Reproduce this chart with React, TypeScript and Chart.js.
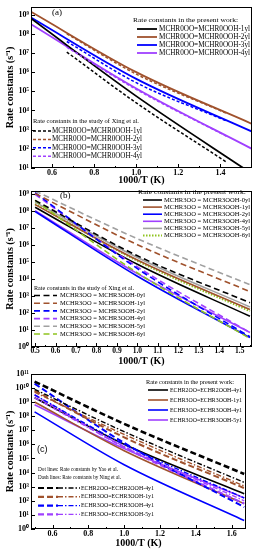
import React, { useEffect, useRef } from "react";
import { Chart, registerables } from "chart.js";
Chart.register(...registerables);

const SERIF = '"Liberation Serif", "Times New Roman", serif';
const SANS = '"Liberation Sans", Arial, sans-serif';

const BLACK = "#000000";
const BROWN = "#a0522d";
const BLUE = "#0000ff";
const PURPLE = "#a040ff";
const GREY = "#a0a0a0";
const GREEN = "#8fc31f";

// ---------- Panel (a) ----------
const aX = [0.5, 1.0, 1.55];
const aXingX = [0.67, 1.0, 1.43];
const a1yl = [6.31e8, 5.62e4, 5.01];
const a2yl = [1.41e9, 1.0e6, 2.0e3];
const a3yl = [7.08e8, 4.47e5, 7.94e2];
const a4yl = [3.16e8, 1.41e5, 1.0e2];
const aXing1yl = [1.12e7, 2.51e4, 2.0e1];
const aXing2yl = [1.0e8, 7.94e5, 7.08e3];
const aXing3yl = [3.98e7, 2.82e5, 2.82e3];
const aXing4yl = [2.0e7, 1.26e5, 4.47e2];
const aLabels = ["MCHR0OO=MCHR0OOH-1yl", "MCHR0OO=MCHR0OOH-2yl", "MCHR0OO=MCHR0OOH-3yl", "MCHR0OO=MCHR0OOH-4yl"];
const aXTicks = [0.6, 0.8, 1.0, 1.2, 1.4];
const aYTicks = [1e1, 1e2, 1e3, 1e4, 1e5, 1e6, 1e7, 1e8, 1e9];

// ---------- Panel (b) ----------
const bX = [0.5, 1.0, 1.55];
const b0yl = [1.58e8, 7.08e4, 63.1];
const b1yl = [2.24e8, 1.26e5, 158];
const b2yl = [8.91e7, 1.41e4, 3.55];
const b4yl = [1.0e8, 2.0e4, 7.08];
const b5yl = [3.16e8, 1.78e5, 224];
const b6yl = [2.51e8, 1.12e5, 126];
const bXing0yl = [3.98e8, 2.24e5, 398];
const bXing1yl = [1.0e9, 1.0e6, 1.78e3];
const bXing2yl = [1.12e9, 3.98e4, 3.98];
const bXing4yl = [8.91e8, 5.01e4, 7.08];
const bXing5yl = [1.41e9, 2.24e6, 4.47e3];
const bXing6yl = [3.98e8, 2.24e4, 3.16];
const bLabels = ["MCHR3OO = MCHR3OOH-0yl", "MCHR3OO = MCHR3OOH-1yl", "MCHR3OO = MCHR3OOH-2yl", "MCHR3OO = MCHR3OOH-4yl", "MCHR3OO = MCHR3OOH-5yl", "MCHR3OO = MCHR3OOH-6yl"];
const bXTicks = [0.5, 0.6, 0.7, 0.8, 0.9, 1.0, 1.1, 1.2, 1.3, 1.4, 1.5];
const bYTicks = [1e0, 1e1, 1e2, 1e3, 1e4, 1e5, 1e6, 1e7, 1e8, 1e9];

// ---------- Panel (c) ----------
const cX = [0.5, 1.0, 1.67];
const cEchr2_4y1 = [2.0e9, 1.0e6, 316];
const cEchr3_1y1 = [1.0e9, 3.55e5, 63.1];
const cEchr3_4y1 = [2.0e8, 3.55e4, 3.98];
const cEchr3_5y1 = [6.31e8, 5.01e5, 158];
const cNing2_4y1 = [2.82e10, 2.82e7, 7.94e3];
const cNing3_1y1 = [6.31e9, 3.16e6, 794];
const cNing3_4y1 = [2.0e10, 1.26e6, 35.5];
const cNing3_5y1 = [3.16e9, 6.31e5, 63.1];
const cYao2_4y1 = [7.94e9, 7.94e6, 2.0e3];
const cYao3_1y1 = [5.01e9, 5.01e6, 1.12e3];
const cYao3_4y1 = [3.16e9, 1.0e6, 158];
const cYao3_5y1 = [2.0e9, 7.08e5, 100];
const cLabels = ["ECHR2OO=ECHR2OOH-4y1", "ECHR3OO=ECHR3OOH-1y1", "ECHR3OO=ECHR3OOH-4y1", "ECHR3OO=ECHR3OOH-5y1"];
const cXTicks = [0.6, 0.8, 1.0, 1.2, 1.4, 1.6];
const cYTicks = [1e0, 1e1, 1e2, 1e3, 1e4, 1e5, 1e6, 1e7, 1e8, 1e9, 1e10, 1e11];

const SUP: Record<string, string> = { "0": "⁰", "1": "¹", "2": "²", "3": "³", "4": "⁴", "5": "⁵", "6": "⁶", "7": "⁷", "8": "⁸", "9": "⁹", "-": "⁻" };
const powLabel = (v: number) => "10" + String(Math.round(Math.log10(v))).split("").map((c) => SUP[c]).join("");

type Style = { color: string; width: number; dash: number[] };
const pts = (xs: number[], ys: number[]) => xs.map((x, i) => ({ x, y: ys[i] }));
const ds = (label: string, xs: number[], ys: number[], s: Style) => ({
  label,
  data: pts(xs, ys),
  borderColor: s.color,
  borderWidth: s.width,
  borderDash: s.dash,
  pointRadius: 0,
  fill: false,
  cubicInterpolationMode: "monotone",
});

type Item = { label: string; a: Style; b?: Style };
type Block = {
  titles: { text: string; x: number; y: number; w: number }[];
  titleSize: number;
  x0: number; sampleA: number; sampleB?: number; textX: number; textW: number; y0: number; gap: number; size: number;
  items: Item[];
};

function fitText(ctx: CanvasRenderingContext2D, text: string, x: number, y: number, font: string, width: number) {
  ctx.save();
  ctx.font = font;
  const w = ctx.measureText(text).width;
  ctx.translate(x, y);
  if (width > 0 && w > 0) ctx.scale(width / w, 1);
  ctx.fillText(text, 0, 0);
  ctx.restore();
}

function strokeSeg(ctx: CanvasRenderingContext2D, x1: number, x2: number, y: number, s: Style) {
  ctx.save();
  ctx.strokeStyle = s.color;
  ctx.lineWidth = s.width;
  ctx.setLineDash(s.dash);
  ctx.beginPath();
  ctx.moveTo(x1, y);
  ctx.lineTo(x2, y);
  ctx.stroke();
  ctx.restore();
}

type PanelSpec = {
  height: number; areaTop: number; areaBottom: number; areaRight: number;
  xMin: number; xMax: number; yMin: number; yMax: number;
  xTicks: number[]; xMinor: number[]; yTicks: number[];
  xTickSize: number;
  xTitlePad: number;
  datasets: any[];
  blocks: Block[];
  tag: { text: string; x: number; y: number; font: string };
};

function decor(p: PanelSpec) {
  return {
    id: "decor",
    afterDatasetsDraw(chart: any) {
      const ctx: CanvasRenderingContext2D = chart.ctx;
      const { left, right, top, bottom } = chart.chartArea;
      const xs = chart.scales.x;
      const ys = chart.scales.y;
      ctx.save();
      ctx.strokeStyle = "#000";
      ctx.lineWidth = 1;
      ctx.setLineDash([]);
      ctx.beginPath();
      for (const t of p.xTicks) {
        const px = Math.round(xs.getPixelForValue(t)) + 0.5;
        ctx.moveTo(px, bottom);
        ctx.lineTo(px, bottom - 4);
      }
      for (const t of p.xMinor) {
        const px = Math.round(xs.getPixelForValue(t)) + 0.5;
        ctx.moveTo(px, bottom);
        ctx.lineTo(px, bottom - 2);
      }
      for (const t of p.yTicks) {
        const py = Math.round(ys.getPixelForValue(t)) + 0.5;
        ctx.moveTo(left, py);
        ctx.lineTo(left + 4, py);
      }
      ctx.stroke();
      ctx.strokeRect(Math.round(left) + 0.5, Math.round(top) + 0.5, Math.round(right - left) - 1, Math.round(bottom - top) - 1);
      ctx.restore();

      ctx.save();
      ctx.fillStyle = "#000";
      ctx.textBaseline = "middle";
      ctx.textAlign = "left";
      for (const b of p.blocks) {
        for (const t of b.titles) fitText(ctx, t.text, t.x, t.y, `${b.titleSize}px ${SERIF}`, t.w);
        b.items.forEach((it, i) => {
          const y = b.y0 + i * b.gap;
          strokeSeg(ctx, b.x0, b.x0 + b.sampleA, y, it.a);
          if (it.b && b.sampleB) strokeSeg(ctx, b.x0 + b.sampleA, b.x0 + b.sampleA + b.sampleB, y, it.b);
          fitText(ctx, it.label, b.textX, y, `${b.size}px ${SERIF}`, b.textW);
        });
      }
      ctx.font = p.tag.font;
      ctx.fillText(p.tag.text, p.tag.x, p.tag.y);
      ctx.restore();
    },
  };
}

function buildConfig(p: PanelSpec): any {
  const tickFont = { family: SERIF, size: 8, weight: "bold" as const };
  return {
    type: "line",
    data: { datasets: p.datasets },
    options: {
      responsive: false,
      animation: false,
      devicePixelRatio: 1,
      layout: { padding: { left: 0, top: p.areaTop, right: 256 - p.areaRight, bottom: 0 } },
      plugins: { legend: { display: false }, tooltip: { enabled: false } },
      scales: {
        x: {
          type: "linear",
          min: p.xMin,
          max: p.xMax,
          grid: { display: false, drawTicks: false },
          border: { display: false },
          ticks: { font: { family: SERIF, size: p.xTickSize, weight: "bold" }, color: "#000", padding: 0, maxRotation: 0, autoSkip: false, callback: (v: any) => Number(v).toFixed(1) },
          afterBuildTicks: (s: any) => { s.ticks = p.xTicks.map((v) => ({ value: v })); },
          afterFit: (s: any) => { s.height = p.height - p.areaBottom; },
          title: { display: true, text: "1000/T (K)", color: "#000", font: { family: SERIF, size: 10, weight: "bold" }, padding: { top: 0, bottom: p.xTitlePad } },
        },
        y: {
          type: "logarithmic",
          min: p.yMin,
          max: p.yMax,
          grid: { display: false, drawTicks: false },
          border: { display: false },
          ticks: { font: tickFont, color: "#000", padding: 2, autoSkip: false, callback: (v: any) => powLabel(Number(v)) },
          afterBuildTicks: (s: any) => { s.ticks = p.yTicks.map((v) => ({ value: v })); },
          afterFit: (s: any) => { s.width = 31; },
          title: { display: true, text: "Rate constants (s⁻¹)", color: "#000", font: { family: SERIF, size: 10, weight: "bold" }, padding: { top: 4, bottom: 0 } },
        },
      },
    },
    plugins: [decor(p)],
  };
}

const solid = (color: string, width = 1.8): Style => ({ color, width, dash: [] });
const dashA = (color: string): Style => ({ color, width: 1.5, dash: [3, 2] });
const dashB = (color: string): Style => ({ color, width: 1.6, dash: [6, 3.5] });
const dashC = (color: string, width = 2): Style => ({ color, width, dash: [6, 3] });
const dotDashC = (color: string): Style => ({ color, width: 1.4, dash: [5, 2, 1.5, 2] });
const dotted = (color: string): Style => ({ color, width: 2, dash: [1.5, 1.5] });

const PRESENT = "Rate constants in the present work:";

const aColors = [BLACK, BROWN, BLUE, PURPLE];
const specA: PanelSpec = {
  height: 186, areaTop: 4, areaBottom: 168, areaRight: 252,
  xMin: 0.5, xMax: 1.55, yMin: 10, yMax: 2.57e9,
  xTicks: aXTicks, xMinor: [0.5, 0.7, 0.9, 1.1, 1.3, 1.5], yTicks: aYTicks,
  xTickSize: 8,
  xTitlePad: 0,
  datasets: [
    ds("Xing " + aLabels[0], aXingX, aXing1yl, dashA(BLACK)),
    ds("Xing " + aLabels[1], aXingX, aXing2yl, dashA(BROWN)),
    ds("Xing " + aLabels[2], aXingX, aXing3yl, dashA(BLUE)),
    ds("Xing " + aLabels[3], aXingX, aXing4yl, dashA(PURPLE)),
    ds(aLabels[0], aX, a1yl, solid(BLACK)),
    ds(aLabels[1], aX, a2yl, solid(BROWN)),
    ds(aLabels[2], aX, a3yl, solid(BLUE)),
    ds(aLabels[3], aX, a4yl, solid(PURPLE)),
  ],
  blocks: [
    {
      titles: [{ text: PRESENT, x: 133, y: 20, w: 105 }], titleSize: 7,
      x0: 137, sampleA: 20, textX: 159, textW: 91, y0: 29, gap: 8, size: 7.5,
      items: aLabels.map((l, i) => ({ label: l, a: solid(aColors[i]) })),
    },
    {
      titles: [{ text: "Rate constants in the study of Xing et al.", x: 33, y: 121, w: 106 }], titleSize: 7,
      x0: 33, sampleA: 18, textX: 52, textW: 90, y0: 131, gap: 8.4, size: 7.3,
      items: aLabels.map((l, i) => ({ label: l, a: dashA(aColors[i]) })),
    },
  ],
  tag: { text: "(a)", x: 52, y: 13, font: `9px ${SERIF}` },
};

const bColors = [BLACK, BROWN, BLUE, PURPLE, GREY, GREEN];
const bPresentStyles = [solid(BLACK, 1.6), solid(BROWN, 1.6), solid(BLUE, 1.6), solid(PURPLE, 1.6), solid(GREY, 1.6), dotted(GREEN)];
const specB: PanelSpec = {
  height: 183, areaTop: 3, areaBottom: 163, areaRight: 252,
  xMin: 0.48, xMax: 1.56, yMin: 1, yMax: 1.45e9,
  xTicks: bXTicks, xMinor: [0.55, 0.65, 0.75, 0.85, 0.95, 1.05, 1.15, 1.25, 1.35, 1.45, 1.55], yTicks: bYTicks,
  xTickSize: 7.5,
  xTitlePad: 0,
  datasets: [
    ds("Xing " + bLabels[0], bX, bXing0yl, dashB(BLACK)),
    ds("Xing " + bLabels[1], bX, bXing1yl, dashB(BROWN)),
    ds("Xing " + bLabels[2], bX, bXing2yl, dashB(BLUE)),
    ds("Xing " + bLabels[3], bX, bXing4yl, dashB(PURPLE)),
    ds("Xing " + bLabels[4], bX, bXing5yl, dashB(GREY)),
    ds("Xing " + bLabels[5], bX, bXing6yl, dashB(GREEN)),
    ds(bLabels[0], bX, b0yl, bPresentStyles[0]),
    ds(bLabels[1], bX, b1yl, bPresentStyles[1]),
    ds(bLabels[2], bX, b2yl, bPresentStyles[2]),
    ds(bLabels[3], bX, b4yl, bPresentStyles[3]),
    ds(bLabels[4], bX, b5yl, bPresentStyles[4]),
    ds(bLabels[5], bX, b6yl, bPresentStyles[5]),
  ],
  blocks: [
    {
      titles: [{ text: PRESENT, x: 138, y: 8, w: 108 }], titleSize: 6.5,
      x0: 143, sampleA: 19, textX: 164, textW: 86, y0: 16, gap: 7.1, size: 6.6,
      items: bLabels.map((l, i) => ({ label: l, a: bPresentStyles[i] })),
    },
    {
      titles: [{ text: "Rate constants in the study of Xing et al.", x: 34, y: 104, w: 100 }], titleSize: 6.5,
      x0: 34, sampleA: 23, textX: 60, textW: 85, y0: 111.5, gap: 7.7, size: 6.6,
      items: bLabels.map((l, i) => ({ label: l, a: dashB(bColors[i]) })),
    },
  ],
  tag: { text: "(b)", x: 60, y: 12, font: `9px ${SERIF}` },
};

const cColors = [BLACK, BROWN, BLUE, PURPLE];
const specC: PanelSpec = {
  height: 183, areaTop: 5, areaBottom: 162, areaRight: 246,
  xMin: 0.48, xMax: 1.68, yMin: 1, yMax: 1e11,
  xTicks: cXTicks, xMinor: [0.5, 0.7, 0.9, 1.1, 1.3, 1.5], yTicks: cYTicks,
  xTickSize: 8,
  xTitlePad: 1,
  datasets: [
    ds("Yao " + cLabels[0], cX, cYao2_4y1, dotDashC(BLACK)),
    ds("Yao " + cLabels[1], cX, cYao3_1y1, dotDashC(BROWN)),
    ds("Yao " + cLabels[2], cX, cYao3_4y1, dotDashC(BLUE)),
    ds("Yao " + cLabels[3], cX, cYao3_5y1, dotDashC(PURPLE)),
    ds("Ning " + cLabels[0], cX, cNing2_4y1, dashC(BLACK, 2.6)),
    ds("Ning " + cLabels[1], cX, cNing3_1y1, dashC(BROWN)),
    ds("Ning " + cLabels[2], cX, cNing3_4y1, dashC(BLUE)),
    ds("Ning " + cLabels[3], cX, cNing3_5y1, dashC(PURPLE)),
    ds(cLabels[0], cX, cEchr2_4y1, solid(BLACK, 1.6)),
    ds(cLabels[1], cX, cEchr3_1y1, solid(BROWN, 1.6)),
    ds(cLabels[2], cX, cEchr3_4y1, solid(BLUE, 1.6)),
    ds(cLabels[3], cX, cEchr3_5y1, solid(PURPLE, 1.6)),
  ],
  blocks: [
    {
      titles: [{ text: "Rate constants in the present work:", x: 146, y: 15, w: 88 }], titleSize: 6,
      x0: 148, sampleA: 20, textX: 170, textW: 72, y0: 23, gap: 10, size: 6,
      items: cLabels.map((l, i) => ({ label: l, a: solid(cColors[i], 1.6) })),
    },
    {
      titles: [
        { text: "Dot lines: Rate constants by Yao et al.", x: 38, y: 102, w: 80 },
        { text: "Dash lines: Rate constants by Ning et al.", x: 38, y: 110, w: 83 },
      ], titleSize: 6,
      x0: 38, sampleA: 20, sampleB: 22, textX: 81, textW: 73, y0: 121, gap: 8.8, size: 6,
      items: cLabels.map((l, i) => ({ label: l, a: dashC(cColors[i], 2.2), b: dotDashC(cColors[i]) })),
    },
  ],
  tag: { text: "(c)", x: 37, y: 83, font: `9px ${SANS}` },
};

function Panel({ top, spec }: { top: number; spec: PanelSpec }) {
  const ref = useRef<HTMLCanvasElement>(null);
  useEffect(() => {
    const chart = new Chart(ref.current as HTMLCanvasElement, buildConfig(spec));
    return () => chart.destroy();
  }, []);
  return (
    <div style={{ position: "absolute", left: 0, top, width: 256, height: spec.height }}>
      <canvas ref={ref} width={256} height={spec.height} style={{ width: 256, height: spec.height, display: "block" }} />
    </div>
  );
}

export default function App() {
  return (
    <div style={{ position: "fixed", left: 0, top: 0, width: 256, height: 550, background: "#fff", overflow: "hidden" }}>
      <Panel top={0} spec={specA} />
      <Panel top={184} spec={specB} />
      <Panel top={367} spec={specC} />
    </div>
  );
}
